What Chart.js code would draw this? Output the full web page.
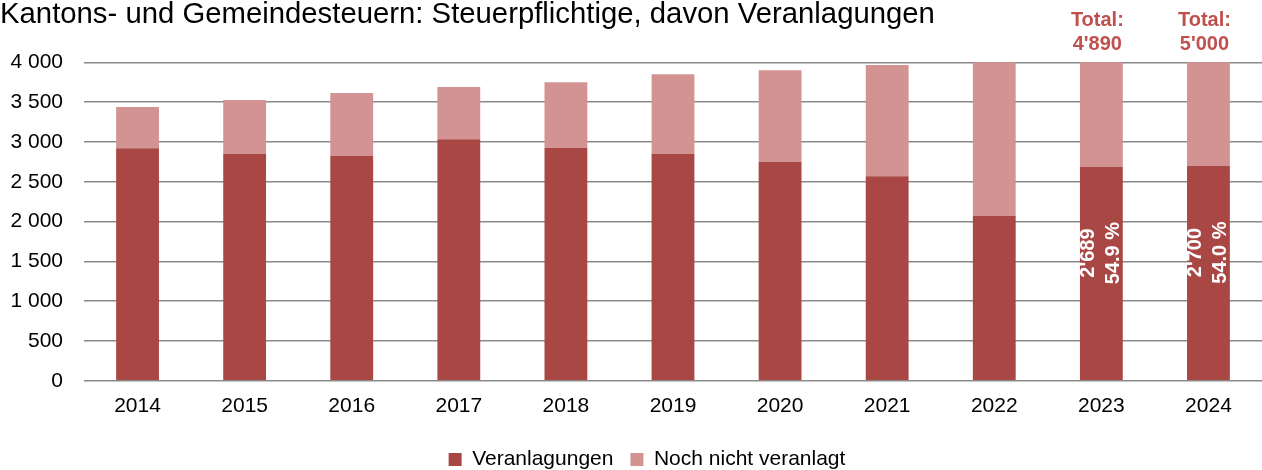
<!DOCTYPE html>
<html>
<head>
<meta charset="utf-8">
<script src="https://cdn.jsdelivr.net/npm/chart.js@4/dist/chart.umd.min.js"></script>
<style>
  html, body { margin: 0; padding: 0; background: #fff; }
  #wrap { width: 1262px; height: 470px; }
</style>
</head>
<body>
<div id="wrap"><canvas id="c" width="1262" height="470"></canvas></div>
<script>
// Steuerjahre
const years = ['2014', '2015', '2016', '2017', '2018', '2019', '2020', '2021', '2022', '2023', '2024'];
// Bereits veranlagte Steuerpflichtige
const veranlagungen = [2920, 2850, 2825, 3035, 2925, 2850, 2750, 2570, 2070, 2689, 2700];
// Noch nicht veranlagte Steuerpflichtige
const nochNichtVeranlagt = [520, 675, 790, 655, 825, 1000, 1150, 1395, 2100, 2201, 2300];
// Jahre mit Total- und Quotenbeschriftung
const annotatedYears = ['2023', '2024'];
// Achsenbeschriftung der Werteachse
const yTicks = [0, 500, 1000, 1500, 2000, 2500, 3000, 3500, 4000];

const FONT = '"Liberation Sans", Arial, sans-serif';
const DARK = '#A94745';
const LIGHT = '#D39392';
const ACCENT = '#C0504D';

const fmtSpace = v => String(v).replace(/\B(?=(\d{3})+(?!\d))/g, ' ');
const fmtApos = v => String(v).replace(/\B(?=(\d{3})+(?!\d))/g, "'");
const fmtPct = (part, total) => (Math.floor(part / total * 1000 + 1e-9) / 10).toFixed(1) + ' %';

// Legende etwas nach rechts versetzen
const legendOffset = {
  id: 'legendOffset',
  afterLayout(chart) {
    const lg = chart.legend;
    if (lg) { lg.left += 16; lg.right += 16; }
  }
};

const barLabels = {
  id: 'barLabels',
  afterDatasetsDraw(chart) {
    const ctx = chart.ctx;
    const area = chart.chartArea;
    const meta = chart.getDatasetMeta(0);
    annotatedYears.forEach(y => {
      const i = years.indexOf(y);
      const bar = meta.data[i];
      const total = veranlagungen[i] + nochNichtVeranlagt[i];
      ctx.save();
      ctx.textAlign = 'center';
      ctx.textBaseline = 'middle';
      ctx.font = 'bold 20px ' + FONT;
      ctx.fillStyle = ACCENT;
      ctx.fillText('Total:', bar.x - 4, area.top - 42);
      ctx.fillText(fmtApos(total), bar.x - 4, area.top - 18);
      const cy = bar.base - 0.595 * (bar.base - bar.y);
      ctx.translate(bar.x, cy);
      ctx.rotate(-Math.PI / 2);
      ctx.fillStyle = '#fff';
      ctx.fillText(fmtApos(veranlagungen[i]), 0, -12.5);
      ctx.fillText(fmtPct(veranlagungen[i], total), 0, 12.5);
      ctx.restore();
    });
  }
};

new Chart(document.getElementById('c'), {
  type: 'bar',
  data: {
    labels: years,
    datasets: [
      { label: 'Veranlagungen', data: veranlagungen, backgroundColor: DARK, borderWidth: 0 },
      { label: 'Noch nicht veranlagt', data: nochNichtVeranlagt, backgroundColor: LIGHT, borderWidth: 0 }
    ]
  },
  options: {
    responsive: false,
    animation: false,
    devicePixelRatio: 1,
    barPercentage: 0.4,
    categoryPercentage: 1,
    layout: { padding: { left: 0, right: 0, top: 0, bottom: -10 } },
    scales: {
      x: {
        stacked: true,
        grid: { display: false, drawTicks: false },
        border: { display: false },
        ticks: { color: '#000', font: { family: FONT, size: 21 }, padding: 13, maxRotation: 0 }
      },
      y: {
        stacked: true,
        min: 0,
        max: 4000,
        afterBuildTicks: s => { s.ticks = yTicks.map(v => ({ value: v })); },
        afterFit: s => { s.width = 84; },
        grid: { color: '#8a8a8a', lineWidth: 1.5, drawTicks: false },
        border: { display: false },
        ticks: { color: '#000', font: { family: FONT, size: 21 }, padding: 21, callback: v => fmtSpace(v) }
      }
    },
    plugins: {
      title: {
        display: true,
        text: 'Kantons- und Gemeindesteuern: Steuerpflichtige, davon Veranlagungen',
        align: 'start',
        color: '#000',
        font: { family: FONT, size: 29.3, weight: 'normal', lineHeight: 1 },
        padding: { top: 0, bottom: 33 }
      },
      legend: {
        position: 'bottom',
        labels: {
          color: '#000',
          font: { family: FONT, size: 21 },
          boxWidth: 13,
          boxHeight: 13,
          padding: 17
        }
      },
      tooltip: { enabled: false }
    }
  },
  plugins: [barLabels, legendOffset]
});
</script>
</body>
</html>
